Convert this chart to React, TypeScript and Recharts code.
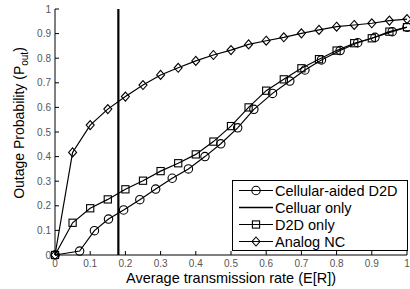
import React from "react";
import { LineChart, Line, XAxis, YAxis } from "recharts";

const rateTicks = [0, 0.1, 0.2, 0.3, 0.4, 0.5, 0.6, 0.7, 0.8, 0.9, 1];
const probTicks = [0, 0.1, 0.2, 0.3, 0.4, 0.5, 0.6, 0.7, 0.8, 0.9, 1];

const cellAidedX = [0, 0.07, 0.112, 0.152, 0.195, 0.241, 0.286, 0.333, 0.379, 0.426, 0.471, 0.519, 0.565, 0.618, 0.667, 0.71, 0.757, 0.81, 0.86, 0.909, 0.958, 1.0];
const cellAidedY = [0, 0.016, 0.099, 0.146, 0.183, 0.225, 0.268, 0.312, 0.35, 0.4, 0.452, 0.517, 0.592, 0.657, 0.707, 0.752, 0.793, 0.831, 0.863, 0.885, 0.908, 0.926];

const gridX = [0, 0.05, 0.1, 0.15, 0.2, 0.25, 0.3, 0.35, 0.4, 0.45, 0.5, 0.55, 0.6, 0.65, 0.7, 0.75, 0.8, 0.85, 0.9, 0.95, 1.0];
const d2dY = [0, 0.131, 0.19, 0.226, 0.267, 0.302, 0.341, 0.373, 0.409, 0.461, 0.524, 0.6, 0.668, 0.714, 0.759, 0.796, 0.831, 0.861, 0.881, 0.908, 0.926];
const analogY = [0, 0.417, 0.528, 0.593, 0.644, 0.691, 0.732, 0.761, 0.789, 0.813, 0.833, 0.856, 0.871, 0.885, 0.901, 0.915, 0.928, 0.935, 0.942, 0.953, 0.959];

const cellularOnlyRate = 0.18;
const cellularOnlyX = [cellularOnlyRate, cellularOnlyRate];
const cellularOnlyY = [0, 1];

const zip = (xs: number[], ys: number[]) => xs.map((x, i) => ({ x, y: ys[i] }));

const cellAided = zip(cellAidedX, cellAidedY);
const d2dOnly = zip(gridX, d2dY);
const analogNC = zip(gridX, analogY);
const cellularOnly = zip(cellularOnlyX, cellularOnlyY);

const FONT = "Arial, 'Liberation Sans', sans-serif";

type Kind = "circle" | "square" | "diamond" | "none";

function markerShape(kind: Kind, cx: number, cy: number, key?: string | number) {
  if (kind === "circle") return <circle key={key} cx={cx} cy={cy} r={4.2} fill="none" stroke="#000" strokeWidth={1.1} />;
  if (kind === "square") return <rect key={key} x={cx - 3.6} y={cy - 3.6} width={7.2} height={7.2} fill="none" stroke="#000" strokeWidth={1.1} />;
  if (kind === "diamond")
    return <path key={key} d={`M${cx},${cy - 4.5}L${cx + 4},${cy}L${cx},${cy + 4.5}L${cx - 4},${cy}Z`} fill="none" stroke="#000" strokeWidth={1.1} />;
  return <g key={key} />;
}

const dotFor = (kind: Kind) => (props: any) => markerShape(kind, props.cx, props.cy, props.key ?? props.index);

const fmt = (v: number) => (v === 0 ? "0" : v === 1 ? "1" : String(v));

const XTick = (props: any) => {
  const { x, y, payload } = props;
  return (
    <g>
      <line x1={x} x2={x} y1={y} y2={y - 4} stroke="#000" />
      <text x={x} y={y + 11.5} textAnchor="middle" fill="#555" fontSize={10} fontFamily={FONT}>
        {fmt(payload.value)}
      </text>
    </g>
  );
};

const YTick = (props: any) => {
  const { x, y, payload } = props;
  return (
    <g>
      <line x1={x} x2={x + 4} y1={y} y2={y} stroke="#000" />
      <text x={x - 4} y={y + 3.5} textAnchor="end" fill="#555" fontSize={10} fontFamily={FONT}>
        {fmt(payload.value)}
      </text>
    </g>
  );
};

const legendItems: { label: string; kind: Kind }[] = [
  { label: "Cellular-aided D2D", kind: "circle" },
  { label: "Celluar only", kind: "none" },
  { label: "D2D only", kind: "square" },
  { label: "Analog NC", kind: "diamond" },
];

const LegendBox = () => (
  <div
    style={{
      position: "absolute",
      left: 232,
      top: 180,
      border: "1px solid #000",
      background: "#fff",
      width: 176,
      height: 71,
      boxSizing: "border-box",
      paddingTop: 1,
    }}
  >
    {legendItems.map((it) => (
      <div key={it.label} style={{ display: "flex", alignItems: "center", height: 17 }}>
        <svg width={42} height={17} style={{ flex: "none" }}>
          <line x1={6} x2={40} y1={8.5} y2={8.5} stroke="#000" strokeWidth={it.kind === "none" ? 1.5 : 1.2} />
          {markerShape(it.kind, 23, 8.5)}
        </svg>
        <span style={{ fontFamily: FONT, fontSize: 14.5, color: "#000", whiteSpace: "nowrap" }}>{it.label}</span>
      </div>
    ))}
  </div>
);

const XLabel = (props: any) => {
  const vb = props.viewBox;
  return (
    <text x={vb.x + vb.width / 2} y={283} textAnchor="middle" fontSize={14.5} fontFamily={FONT} fill="#000">
      Average transmission rate (E[R])
    </text>
  );
};

const YLabel = () => {
  const cy = 123;
  return (
    <text x={24} y={cy} transform={`rotate(-90 24 ${cy})`} textAnchor="middle" fontSize={14} fontFamily={FONT} fill="#000">
      Outage Probability (P
      <tspan fontSize={10} dy={4}>out</tspan>
      <tspan dy={-4}>)</tspan>
    </text>
  );
};

export default function App() {
  return (
    <div style={{ position: "absolute", left: 0, top: 0, width: 410, height: 289, background: "#fff" }}>
      <LineChart width={410} height={289} margin={{ top: 9, right: 3, left: 0, bottom: 0 }}>
        <XAxis
          dataKey="x"
          type="number"
          domain={[0, 1]}
          ticks={rateTicks}
          interval={0}
          allowDuplicatedCategory={false}
          height={34}
          tickSize={0}
          tickMargin={0}
          tickLine={false}
          tick={<XTick />}
          stroke="#000"
          label={<XLabel />}
        />
        <YAxis
          dataKey="y"
          type="number"
          domain={[0, 1]}
          ticks={probTicks}
          interval={0}
          width={55}
          tickSize={0}
          tickMargin={0}
          tickLine={false}
          tick={<YTick />}
          stroke="#000"
          label={<YLabel />}
        />
        <Line data={cellularOnly} dataKey="y" stroke="#000" strokeWidth={2.2} dot={false} isAnimationActive={false} />
        <Line data={cellAided} dataKey="y" stroke="#000" strokeWidth={1.2} dot={dotFor("circle")} isAnimationActive={false} />
        <Line data={d2dOnly} dataKey="y" stroke="#000" strokeWidth={1.2} dot={dotFor("square")} isAnimationActive={false} />
        <Line data={analogNC} dataKey="y" stroke="#000" strokeWidth={1.2} dot={dotFor("diamond")} isAnimationActive={false} />
      </LineChart>
      <LegendBox />
    </div>
  );
}
